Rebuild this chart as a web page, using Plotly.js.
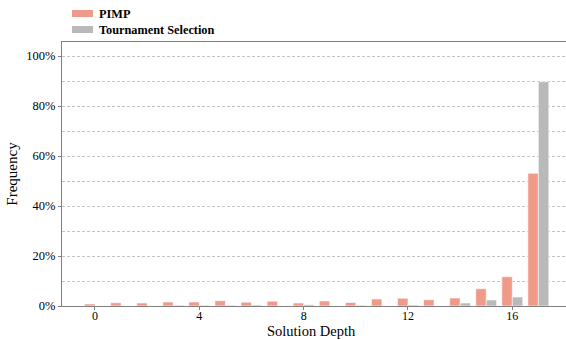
<!DOCTYPE html>
<html>
<head>
<meta charset="utf-8">
<script src="https://cdn.plot.ly/plotly-3.0.1.min.js"></script>
<style>html,body{margin:0;padding:0;background:#fff;}#chart{width:566px;height:340px;}</style>
</head>
<body>
<div id="chart"></div>
<script>
var depths = [0,1,2,3,4,5,6,7,8,9,10,11,12,13,14,15,16,17];
var seriesNames = ["PIMP", "Tournament Selection"];
var pimpValues = [0.8,1.3,1.2,1.6,1.6,2.1,1.5,1.9,1.2,2.0,1.4,2.8,3.1,2.5,3.2,6.9,11.7,53.1];
var tournamentValues = [0,0,0,0.3,0.3,0.3,0.4,0,0.5,0,0.3,0,0.4,0,1.2,2.4,3.6,89.7];
var xTickVals = [0,4,8,12,16];
var yTickVals = [0,20,40,60,80,100];
var yTickLabels = ["0%","20%","40%","60%","80%","100%"];
var xTitle = "Solution Depth";
var yTitle = "Frequency";

var colors = ["rgb(240,154,138)", "rgb(185,185,185)"];
var serif = "Liberation Serif";

var traces = [
  {type:"bar", name:seriesNames[0], x:depths, y:pimpValues, showlegend:false,
   marker:{color:colors[0], line:{color:"rgba(255,255,255,0.55)", width:1}}},
  {type:"bar", name:seriesNames[1], x:depths, y:tournamentValues, showlegend:false,
   marker:{color:colors[1], line:{color:"rgba(255,255,255,0.55)", width:1}}}
];

var L = 62, R = 566, T = 42, B = 306;
function px(x){ return (x - L) / (R - L); }
function py(y){ return (B - y) / (B - T); }

var shapes = [
  {type:"rect", xref:"paper", yref:"paper", x0:px(72), x1:px(93), y0:py(17), y1:py(10), fillcolor:colors[0], line:{width:0}},
  {type:"rect", xref:"paper", yref:"paper", x0:px(72), x1:px(93), y0:py(33), y1:py(26), fillcolor:colors[1], line:{width:0}}
];
var annotations = [
  {xref:"paper", yref:"paper", x:px(97), y:py(13.5), xanchor:"left", yanchor:"middle", showarrow:false,
   text:"<b>"+seriesNames[0]+"</b>", font:{family:serif, size:12.3, color:"#000"}},
  {xref:"paper", yref:"paper", x:px(97), y:py(30), xanchor:"left", yanchor:"middle", showarrow:false,
   text:"<b>"+seriesNames[1]+"</b>", font:{family:serif, size:12.3, color:"#000"}},
  {xref:"paper", yref:"paper", x:px(311.5), y:py(330.5), xanchor:"center", yanchor:"middle", showarrow:false,
   borderpad:0, text:xTitle, font:{family:serif, size:14.5, color:"#000"}}
];

var layout = {
  width:566, height:340,
  margin:{l:L, r:0, t:T, b:340-B, pad:0},
  paper_bgcolor:"#fff", plot_bgcolor:"#fff",
  barmode:"group", bargap:0.2, bargroupgap:0,
  font:{family:serif, size:12, color:"#000"},
  xaxis:{
    range:[-1.265, 18.06], tickvals:xTickVals, ticktext:xTickVals.map(String),
    showgrid:false, zeroline:false, showline:true, linecolor:"#808080", linewidth:1.2, mirror:true,
    ticks:"outside", ticklen:3, tickcolor:"#808080", tickfont:{family:serif, size:12, color:"#000"},
    ticklabelstandoff:-5
  },
  yaxis:{
    range:[0, 105.6], tickvals:yTickVals, ticktext:yTickLabels,
    showgrid:true, gridcolor:"#b4b4b4", griddash:"3px,2px", gridwidth:0.8,
    minor:{tickvals:[10,30,50,70,90], showgrid:true, gridcolor:"#b4b4b4", griddash:"3px,2px", gridwidth:0.8, ticks:""},
    zeroline:false, showline:true, linecolor:"#808080", linewidth:1.2,
    ticks:"outside", ticklen:3, tickcolor:"#808080", tickfont:{family:serif, size:12.5, color:"#000"},
    title:{text:yTitle, font:{family:serif, size:15, color:"#000"}, standoff:4}
  },
  shapes:shapes, annotations:annotations
};

Plotly.newPlot("chart", traces, layout, {displayModeBar:false, staticPlot:true});
</script>
</body>
</html>
